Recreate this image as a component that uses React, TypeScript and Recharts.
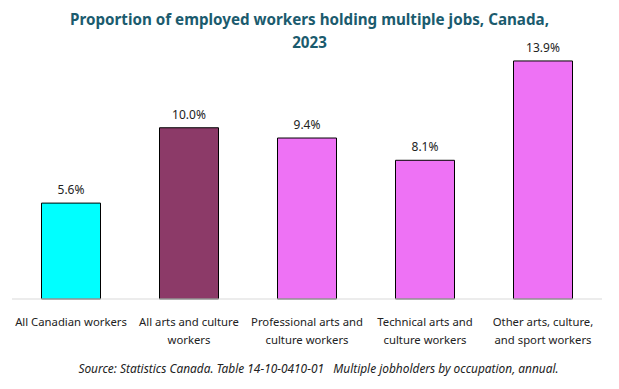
import React from 'react';
import { BarChart, Bar, XAxis, YAxis, Cell, LabelList } from 'recharts';

const categories = [
  ['All Canadian workers'],
  ['All arts and culture', 'workers'],
  ['Professional arts and', 'culture workers'],
  ['Technical arts and', 'culture workers'],
  ['Other arts, culture,', 'and sport workers'],
];
const shares = [5.6, 10.0, 9.4, 8.1, 13.9];
const barColors = ['#00FFFF', '#8C3A68', '#EE72F5', '#EE72F5', '#EE72F5'];

const data = categories.map((lines, i) => ({
  name: lines.join(' '),
  lines,
  value: shares[i],
}));

const FONT = '"Noto Sans", "Open Sans", sans-serif';

const CategoryTick = (props: any) => {
  const { x, y, payload, index } = props;
  const lines: string[] = categories[index] ?? [payload.value];
  return (
    <g transform={`translate(${x},${y})`}>
      {lines.map((line, i) => (
        <text key={i} x={0} y={19 + i * 18} textAnchor="middle" fontSize={11.3} fill="#222" fontFamily={FONT}>
          {line}
        </text>
      ))}
    </g>
  );
};

export default function App() {
  return (
    <div style={{ position: 'absolute', left: 0, top: 0, width: 619, height: 389, background: '#fff', fontFamily: FONT }}>
      <div
        style={{
          position: 'absolute',
          top: 8,
          left: 0,
          width: 619,
          textAlign: 'center',
          fontWeight: 700,
          fontSize: 15.2,
          lineHeight: '23px',
          color: '#1B5B6E',
        }}
      >
        Proportion of employed workers holding multiple jobs, Canada,
        <br />
        2023
      </div>
      <BarChart
        width={619}
        height={389}
        data={data}
        margin={{ top: 25, right: 17, left: 12, bottom: 30 }}
        barCategoryGap="25%"
      >
        <XAxis
          dataKey="name"
          height={60}
          interval={0}
          tickLine={false}
          axisLine={{ stroke: '#d9d9d9' }}
          tick={<CategoryTick />}
        />
        <YAxis hide domain={[0, 16]} />
        <Bar dataKey="value" stroke="#000" strokeWidth={1} isAnimationActive={false}>
          {data.map((d, i) => (
            <Cell key={d.name} fill={barColors[i]} />
          ))}
          <LabelList
            dataKey="value"
            position="top"
            offset={9}
            formatter={(v: any) => `${Number(v).toFixed(1)}%`}
            style={{ fontSize: 12, fill: '#222', fontFamily: FONT }}
          />
        </Bar>
      </BarChart>
      <div
        style={{
          position: 'absolute',
          top: 360,
          left: 18,
          width: 601,
          textAlign: 'center',
          fontStyle: 'italic',
          fontSize: 11.9,
          color: '#222',
          whiteSpace: 'pre',
        }}
      >
        {'Source: Statistics Canada. Table 14-10-0410-01   Multiple jobholders by occupation, annual.'}
      </div>
    </div>
  );
}
